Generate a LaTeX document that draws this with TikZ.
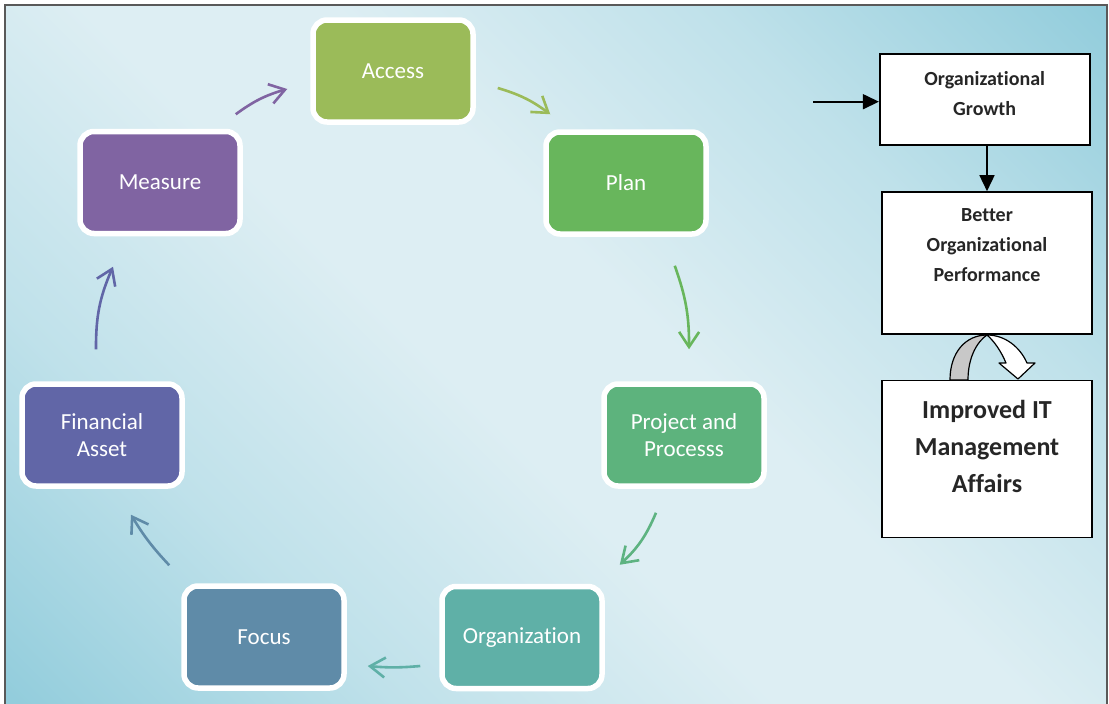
\documentclass[tikz,border=0pt]{standalone}
\usepackage{fontspec}
\setmainfont{Carlito}[Ligatures=NoCommon]
\usetikzlibrary{arrows.meta}

\definecolor{accessgreen}{HTML}{9BBB59}
\definecolor{plangreen}{HTML}{68B65C}
\definecolor{projgreen}{HTML}{5DB37D}
\definecolor{orgteal}{HTML}{5FB0A7}
\definecolor{focusblue}{HTML}{5F8BA8}
\definecolor{finblue}{HTML}{6166A7}
\definecolor{measpurple}{HTML}{8064A2}
\definecolor{bgdark}{HTML}{93CDDC}
\definecolor{bgmid}{HTML}{BFE1EA}
\definecolor{bglight}{HTML}{DDEEF3}
\definecolor{framegray}{HTML}{595959}
\definecolor{ribbongray}{HTML}{C8C8C8}

\pgfdeclarehorizontalshading{panelshade}{100bp}{color(0bp)=(bgdark); color(15bp)=(bgdark); color(30bp)=(bgmid); color(45bp)=(bglight); color(55bp)=(bglight); color(70bp)=(bgmid); color(85bp)=(bgdark); color(100bp)=(bgdark)}

\begin{document}
\begin{tikzpicture}[x=1pt,y=-1pt,>={Straight Barb[length=15pt,width=20pt]},
	cyclebox/.style={draw=white, line width=5.5pt, rounded corners=14pt, minimum width=160pt, minimum height=102pt, text=white, align=center, font=\fontsize{23}{27}\selectfont},
	outbox/.style={draw=black, line width=1.6pt, fill=white, minimum width=210pt},
	boxtext/.style={align=center, text=black!85, font=\bfseries\fontsize{20}{30}\selectfont},
	flow/.style={line width=2.6pt, ->}]
	\useasboundingbox (0,0) rectangle (1109,704);

	%Panel
	\shade[shading=panelshade, shading angle=45] (5,5) rectangle (1106,704);
	\draw[framegray, line width=2pt] (5,710) -- (5,5) -- (1106.5,5) -- (1106.5,710);

	%Cycle
	\node[cyclebox, fill=accessgreen] (acc) at (393,71) {Access};
	\node[cyclebox, fill=plangreen] (plan) at (626,183) {Plan};
	\node[cyclebox, fill=projgreen] (proj) at (684,435) {Project and\\Processs};
	\node[cyclebox, fill=orgteal] (org) at (522,637.5) {Organization};
	\node[cyclebox, fill=focusblue] (foc) at (264,637) {Focus};
	\node[cyclebox, fill=finblue] (fin) at (102,435) {Financial\\Asset};
	\node[cyclebox, fill=measpurple] (meas) at (160,182.5) {Measure};

	\draw[flow, accessgreen] ([shift={(22,17)}]acc.east) to[bend left=10] ([shift={(7,-15)}]plan.north west);
	\draw[flow, plangreen] ([shift={(-34,29)}]plan.south east) to[bend left=10] ([shift={(5,-32)}]proj.north);
	\draw[flow, projgreen!90!orgteal] ([shift={(-28,24)}]proj.south) to[bend left=12] ([shift={(15,-19)}]org.north east);
	\draw[flow, orgteal] ([shift={(-19,28.5)}]org.west) to[bend left=5] ([shift={(21,29)}]foc.east);
	\draw[flow, focusblue] ([shift={(-12,-18)}]foc.north west) to[bend left=6] ([shift={(29,26)}]fin.south);
	\draw[flow, finblue] ([shift={(-6,-32)}]fin.north) to[bend left=12] ([shift={(-47,30.5)}]meas.south);
	\draw[flow, measpurple] ([shift={(-7,-14.5)}]meas.north east) to[bend left=10] ([shift={(-23,18)}]acc.west);

	%Outcome boxes
	\coordinate (feed) at (813,101.7);
	\node[outbox, minimum height=91pt] (growth) at (984.7,99.5) {};
	\node[outbox, minimum height=142pt] (perf) at (987,263) {};
	\node[outbox, minimum height=157pt] (itm) at (987,459) {};
	\node[boxtext] (growthtxt) at ([yshift=5.5pt]growth.center) {Organizational\\Growth};
	\node[boxtext] (perftxt) at ([yshift=18pt]perf.center) {Better\\Organizational\\Performance};
	\node[boxtext, font=\bfseries\fontsize{26}{37}\selectfont] (itmtxt) at ([yshift=13pt]itm.center) {Improved IT\\Management\\Affairs};

	\draw[line width=1.6pt, -{Triangle[length=16pt,width=15pt]}] (feed) -- (feed -| growth.west);
	\draw[line width=1.6pt, -{Triangle[length=16pt,width=15pt]}] (perf.north |- growth.south) -- (perf.north);

	%Turn arrow
	\draw[line width=1.2pt, fill=ribbongray] (950,380) .. controls (950,352) and (966,335) .. (987,335) .. controls (978,341) and (968,356) .. (968,380) -- cycle;
	\draw[line width=1.2pt, fill=white, line join=round] (987,335) .. controls (1005,335) and (1020,347) .. (1027,363) -- (1035,363) -- (1018,379) -- (999,363) -- (1006,363) .. controls (1001,351) and (994,341) .. (987,335) -- cycle;
\end{tikzpicture}
\end{document}
